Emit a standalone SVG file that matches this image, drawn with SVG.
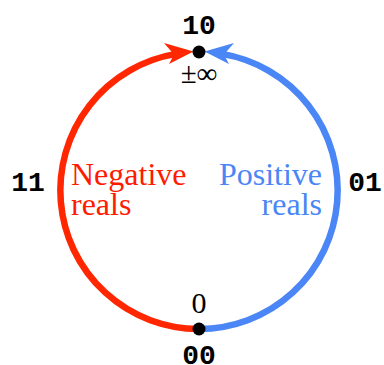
<svg xmlns="http://www.w3.org/2000/svg" width="384" height="365" viewBox="0 0 384 365">
<style>
.code{font-family:"Liberation Mono","DejaVu Sans Mono",monospace;font-weight:bold;font-size:28px;fill:#000;text-anchor:middle}
.ser{font-family:"Liberation Serif","Times New Roman",serif;font-size:32px}
.arc{fill:none;stroke-width:6.5}
</style>
<rect width="384" height="365" fill="#fff"/>
<g id="connectors">
<path class="arc" stroke="#ff2600" d="M199,329 A138.5,138.5 0 0 1 176,53.9"/>
<polygon fill="#ff2600" points="193.5,51.5 164,43 174,54.5 169,64"/>
<path class="arc" stroke="#4a86f5" d="M199,329 A138.5,138.5 0 0 0 222,53.9"/>
<polygon fill="#4a86f5" points="204.5,51.5 234,43 224,54.5 229,64"/>
</g>
<g id="node-top">
<circle cx="199" cy="52" r="6.5" fill="#000"/>
<text class="code" x="199" y="34">10</text>
<text class="ser" x="199" y="83" text-anchor="middle" style="font-size:29px">±∞</text>
</g>
<g id="node-bottom">
<circle cx="199" cy="329" r="6.5" fill="#000"/>
<text class="ser" x="199" y="313" text-anchor="middle" style="font-size:30px">0</text>
<text class="code" x="199" y="364">00</text>
</g>
<g id="node-left">
<text class="code" x="28" y="191">11</text>
<text class="ser" x="71" y="185" fill="#ff1a00">Negative</text>
<text class="ser" x="71" y="215" fill="#ff1a00">reals</text>
</g>
<g id="node-right">
<text class="code" x="365" y="191">01</text>
<text class="ser" x="322" y="185" fill="#4a86f5" text-anchor="end">Positive</text>
<text class="ser" x="322" y="215" fill="#4a86f5" text-anchor="end">reals</text>
</g>
</svg>
